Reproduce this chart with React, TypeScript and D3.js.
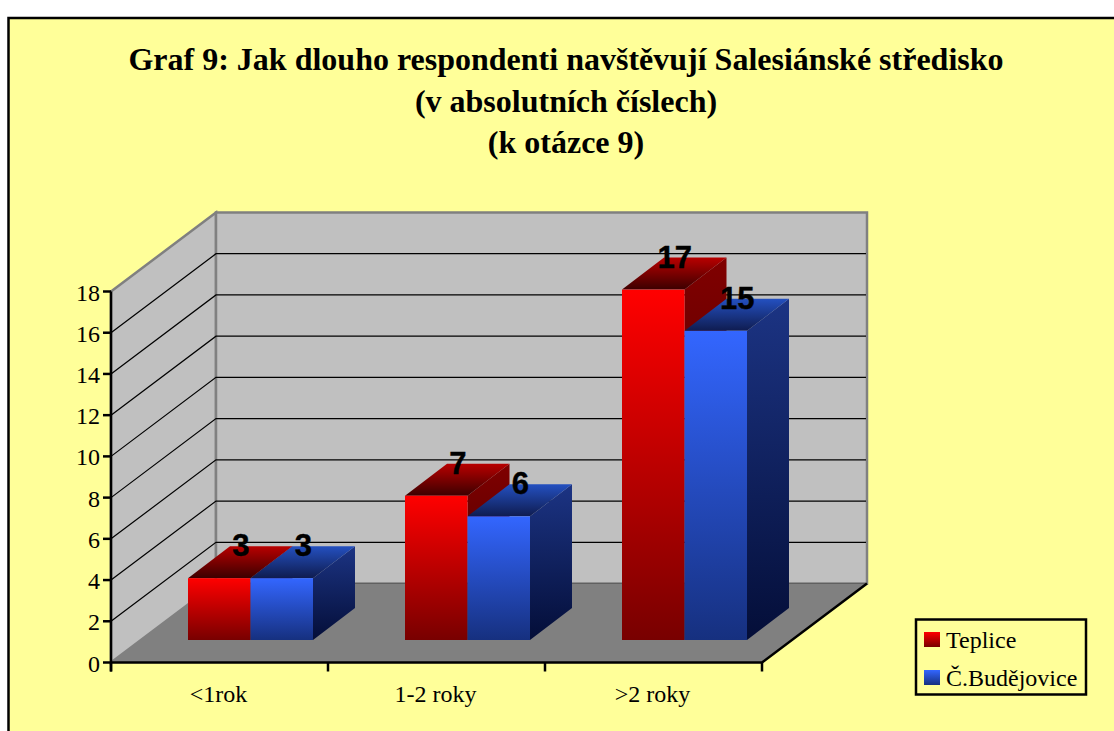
import React from "react";
import * as d3 from "d3";

const titleLines = ["Graf 9: Jak dlouho respondenti navštěvují Salesiánské středisko", "(v absolutních číslech)", "(k otázce 9)"];
const categories = ["<1rok", "1-2 roky", ">2 roky"];
const seriesNames = ["Teplice", "Č.Budějovice"];
const teplice = [3, 7, 17];
const budejovice = [3, 6, 15];
const yTicks = [0, 2, 4, 6, 8, 10, 12, 14, 16, 18];

const serif = "'Liberation Serif', serif";
const sans = "'Liberation Sans', sans-serif";

const y = d3.scaleLinear().domain([0, 18]).range([662.5, 291.5]);
const x = d3.scaleBand<string>().domain(categories).range([111, 762]);
const WALL_DX = 105, WALL_DY = -79;
const bar = { left: 77, w: 62.5, dy: -22.5, ddx: 42, ddy: -32 };

const pal = [
  { face: ["#ff0000", "#780000"], side: ["#800000", "#3a0000"], top: ["#b80000", "#3c0000"] },
  { face: ["#3366ff", "#16307f"], side: ["#1c3484", "#040e38"], top: ["#2450c0", "#0f1c50"] },
];
const poly = (pts: number[][]) => pts.map((p) => p.join(",")).join(" ");

function grad(id: string, c: string[]) {
  return (
    <linearGradient key={id} id={id} x1="0" y1="0" x2="0" y2="1">
      <stop offset="0" stopColor={c[0]} />
      <stop offset="1" stopColor={c[1]} />
    </linearGradient>
  );
}

export default function App() {
  const y0 = y(0), y18 = y(18);
  const [xL, xR] = x.range();
  const series = [teplice, budejovice];
  return (
    <svg width={1114} height={731} style={{ position: "absolute", left: 0, top: 0, display: "block" }}>
      <defs>
        {pal.flatMap((p, i) => [grad(`f${i}`, p.face), grad(`s${i}`, p.side), grad(`t${i}`, p.top)])}
      </defs>
      <rect x={0} y={0} width={1114} height={731} fill="#fff" />
      <rect x={8.5} y={18} width={1120} height={730} fill="#ffff99" stroke="#000" strokeWidth={2.5} />

      <g fontFamily={serif} fontWeight="bold" fontSize={32} textAnchor="middle" fill="#000">
        {titleLines.map((t, i) => (
          <text key={t} x={566} y={[70, 112, 153][i]}>{t}</text>
        ))}
      </g>

      <polygon points={poly([[xL, y18], [xL + WALL_DX, y18 + WALL_DY], [xL + WALL_DX, y0 + WALL_DY], [xL, y0]])} fill="#c0c0c0" stroke="#808080" strokeWidth={2.5} />
      <polygon points={poly([[xL + WALL_DX, y18 + WALL_DY], [xR + WALL_DX, y18 + WALL_DY], [xR + WALL_DX, y0 + WALL_DY], [xL + WALL_DX, y0 + WALL_DY]])} fill="#c0c0c0" stroke="#808080" strokeWidth={2.5} />
      <polygon points={poly([[xL, y0], [xR, y0], [xR + WALL_DX, y0 + WALL_DY], [xL + WALL_DX, y0 + WALL_DY]])} fill="#808080" />

      {yTicks.slice(1, -1).map((t) => (
        <polyline key={t} points={poly([[xL, y(t)], [xL + WALL_DX, y(t) + WALL_DY], [xR + WALL_DX - 1, y(t) + WALL_DY]])} stroke="#000" strokeWidth={1.2} fill="none" />
      ))}
      <line x1={xL + WALL_DX} y1={y0 + WALL_DY} x2={xR + WALL_DX} y2={y0 + WALL_DY} stroke="#606060" strokeWidth={1} />

      {categories.map((c, ci) =>
        series.map((s, si) => {
          const l = (x(c) as number) + bar.left + si * bar.w;
          const r = l + bar.w;
          const b = y0 + bar.dy;
          const t = y(s[ci]) + bar.dy;
          const { ddx: dx, ddy: dy } = bar;
          return (
            <g key={c + si}>
              <polygon points={poly([[r, t], [r + dx, t + dy], [r + dx, b + dy], [r, b]])} fill={`url(#s${si})`} />
              <polygon points={poly([[l, t], [l + dx, t + dy], [r + dx, t + dy], [r, t]])} fill={`url(#t${si})`} />
              <rect x={l} y={t} width={bar.w} height={b - t} fill={`url(#f${si})`} />
            </g>
          );
        })
      )}
      {categories.map((c, ci) =>
        series.map((s, si) => (
          <text key={c + si} x={(x(c) as number) + bar.left + si * bar.w + bar.w / 2 + bar.ddx / 2 + 0.5} y={y(s[ci]) + bar.dy + bar.ddy + 10} textAnchor="middle" fontFamily={sans} fontWeight="bold" fontSize={31} fill="#000" stroke="#000" strokeWidth={0.4}>
            {s[ci]}
          </text>
        ))
      )}

      <g stroke="#000" strokeWidth={2.5} fill="none">
        <line x1={xL} y1={y18} x2={xL} y2={y0 + 9} />
        <polyline points={poly([[xL, y0], [xR, y0], [xR + WALL_DX, y0 + WALL_DY]])} />
        {yTicks.map((t) => <line key={t} x1={xL - 8} y1={y(t)} x2={xL} y2={y(t)} />)}
        {[...categories.map((c) => x(c) as number), xR].map((v) => <line key={v} x1={v} y1={y0} x2={v} y2={y0 + 9} />)}
      </g>
      <g fontFamily={serif} fontSize={24} fill="#000" textAnchor="end">
        {yTicks.map((t) => <text key={t} x={100} y={y(t) + 9}>{t}</text>)}
      </g>
      <g fontFamily={serif} fontSize={24} fill="#000" textAnchor="middle">
        {categories.map((c) => <text key={c} x={(x(c) as number) + x.bandwidth() / 2 - 1} y={702}>{c}</text>)}
      </g>

      <rect x={916} y={619.5} width={170} height={75} fill="#ffff99" stroke="#000" strokeWidth={2.5} />
      {seriesNames.map((n, i) => (
        <g key={n}>
          <rect x={924} y={632 + i * 38} width={16} height={15} fill={`url(#f${i})`} />
          <text x={946} y={647.5 + i * 38} fontFamily={serif} fontSize={24} fill="#000">{n}</text>
        </g>
      ))}
    </svg>
  );
}
